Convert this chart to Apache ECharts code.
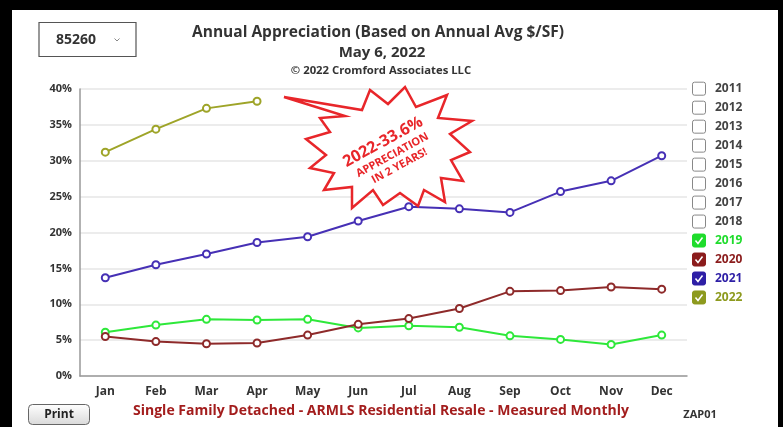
<!DOCTYPE html>
<html>
<head>
<meta charset="utf-8">
<script src="https://cdn.jsdelivr.net/npm/echarts@6/dist/echarts.min.js"></script>
<style>
  html, body { margin: 0; padding: 0; background: #000; }
  #chart { position: absolute; left: 12px; top: 10px; width: 766px; height: 417px; background: #fff; }
</style>
</head>
<body>
<div id="chart"></div>
<script>
const months = ['Jan', 'Feb', 'Mar', 'Apr', 'May', 'Jun', 'Jul', 'Aug', 'Sep', 'Oct', 'Nov', 'Dec'];
const y2019 = [6.1, 7.1, 7.9, 7.8, 7.9, 6.7, 7.0, 6.8, 5.6, 5.1, 4.4, 5.7];
const y2020 = [5.5, 4.8, 4.5, 4.6, 5.7, 7.2, 8.0, 9.4, 11.8, 11.9, 12.4, 12.1];
const y2021 = [13.7, 15.5, 17.0, 18.6, 19.4, 21.6, 23.6, 23.3, 22.8, 25.7, 27.2, 30.7];
const y2022 = [31.2, 34.4, 37.3, 38.3];
const legendYears = ['2011', '2012', '2013', '2014', '2015', '2016', '2017', '2018', '2019', '2020', '2021', '2022'];
const checkedColors = { '2019': '#1fdc2c', '2020': '#8b1c1c', '2021': '#2e1fa6', '2022': '#8d9a1e' };

const font = '"Open Sans", "DejaVu Sans", sans-serif';

function line(name, data, color) {
  return {
    name: name,
    type: 'line',
    data: data,
    symbol: 'emptyCircle',
    symbolSize: 7,
    lineStyle: { color: color, width: 2 },
    itemStyle: { color: color, borderWidth: 2, borderColor: color },
    emphasis: { disabled: true }
  };
}

// legend made of checkboxes (page coordinates)
const legendEls = [];
legendYears.forEach((yr, i) => {
  const cy = 88.7 + i * 18.98;
  const c = checkedColors[yr];
  legendEls.push({
    type: 'rect',
    shape: { x: 692.5, y: cy - 6.5, width: 13, height: 13, r: 2 },
    style: { fill: c || '#fff', stroke: c ? c : '#888', lineWidth: 1 }
  });
  if (c) {
    legendEls.push({
      type: 'polyline',
      shape: { points: [[695.5, cy], [698, cy + 3], [702.5, cy - 3]] },
      style: { stroke: '#fff', lineWidth: 1.5, fill: null }
    });
  }
  legendEls.push({
    type: 'text',
    x: 715, y: cy,
    style: { text: yr, font: 'bold 12px ' + font, fill: c || '#444', verticalAlign: 'middle' }
  });
});

const burst = [[284, 97], [362, 110], [370, 90], [388, 104], [405, 87], [416, 107], [447, 95], [438, 118],
  [472, 121], [450, 134], [470, 152], [451, 160], [463, 181], [441, 178], [445, 202], [424, 190],
  [418, 206], [400, 193], [383, 205], [373, 190], [352, 208], [352, 187], [324, 190], [334, 173],
  [310, 168], [326, 155], [306, 139], [330, 132], [320, 118], [345, 116]];

const chart = echarts.init(document.getElementById('chart'));
chart.setOption({
  animation: false,
  backgroundColor: '#fff',
  textStyle: { fontFamily: font },
  grid: { left: 68, right: 91, top: 79, bottom: 51 },
  xAxis: {
    type: 'category',
    data: months,
    boundaryGap: true,
    axisLine: { lineStyle: { color: '#999', width: 1.5 } },
    axisTick: { show: false },
    axisLabel: { color: '#333', fontWeight: 'bold', fontSize: 12, margin: 10 }
  },
  yAxis: {
    type: 'value',
    min: 0, max: 40, interval: 5,
    axisLine: { show: true, lineStyle: { color: '#999', width: 1.5 } },
    axisTick: { show: false },
    splitLine: { lineStyle: { color: '#e6e6e6', width: 1.5 } },
    axisLabel: { color: '#333', fontWeight: 'bold', fontSize: 11, margin: 8, formatter: '{value}%' }
  },
  series: [
    line('2019', y2019, '#2ee83a'),
    line('2020', y2020, '#8e2a2a'),
    line('2021', y2021, '#4630b5'),
    line('2022', y2022, '#9ea428')
  ],
  graphic: [{
    type: 'group',
    x: -12, y: -10,
    children: [
      {
        type: 'rect',
        shape: { x: 39, y: 22.5, width: 97, height: 34 },
        style: { fill: '#fff', stroke: '#555', lineWidth: 1.2 }
      },
      { type: 'text', x: 56, y: 40, style: { text: '85260', font: 'bold 14px ' + font, fill: '#333', verticalAlign: 'middle' } },
      {
        type: 'polyline',
        shape: { points: [[114.5, 38.5], [117, 41], [119.5, 38.5]] },
        style: { stroke: '#888', lineWidth: 1, fill: null }
      },
      { type: 'text', x: 378, y: 33, style: { text: 'Annual Appreciation (Based on Annual Avg $/SF)', font: 'bold 15.5px ' + font, fill: '#333', align: 'center', verticalAlign: 'middle' } },
      { type: 'text', x: 382, y: 53, style: { text: 'May 6, 2022', font: 'bold 15px ' + font, fill: '#333', align: 'center', verticalAlign: 'middle' } },
      { type: 'text', x: 381, y: 71, style: { text: '© 2022 Cromford Associates LLC', font: 'bold 11.3px ' + font, fill: '#333', align: 'center', verticalAlign: 'middle' } },
      {
        type: 'polygon',
        shape: { points: burst },
        style: { fill: '#fff', stroke: '#e8262a', lineWidth: 2.5, lineJoin: 'miter' },
        z: 100
      },
      {
        type: 'group',
        x: 383, y: 142,
        rotation: 0.5,
        z: 101,
        children: [
          { type: 'text', x: 0, y: 0, z: 101, style: { text: '2022-33.6%', font: 'bold 16px ' + font, fill: '#e8262a', align: 'center', verticalAlign: 'middle' } },
          { type: 'text', x: 2, y: 16, z: 101, style: { text: 'APPRECIATION', font: 'bold 11px ' + font, fill: '#e8262a', align: 'center', verticalAlign: 'middle' } },
          { type: 'text', x: 3, y: 29, z: 101, style: { text: 'IN 2 YEARS!', font: 'bold 11px ' + font, fill: '#e8262a', align: 'center', verticalAlign: 'middle' } }
        ]
      },
      {
        type: 'rect',
        shape: { x: 28.5, y: 404.5, width: 61, height: 20, r: 4 },
        style: {
          fill: new echarts.graphic.LinearGradient(0, 0, 0, 1, [
            { offset: 0, color: '#ffffff' }, { offset: 1, color: '#d9d9d9' }
          ]),
          stroke: '#666', lineWidth: 1
        }
      },
      { type: 'text', x: 59, y: 414.5, style: { text: 'Print', font: 'bold 12px ' + font, fill: '#222', align: 'center', verticalAlign: 'middle' } },
      { type: 'text', x: 381, y: 411, style: { text: 'Single Family Detached - ARMLS Residential Resale - Measured Monthly', font: 'bold 14px ' + font, fill: '#a31d1d', align: 'center', verticalAlign: 'middle' } },
      { type: 'text', x: 700, y: 415, style: { text: 'ZAP01', font: 'bold 11px ' + font, fill: '#333', align: 'center', verticalAlign: 'middle' } }
    ].concat(legendEls)
  }]
});
</script>
</body>
</html>
